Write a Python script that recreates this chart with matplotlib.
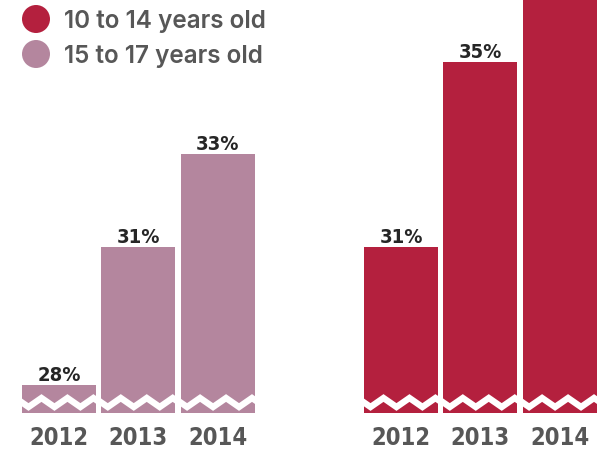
import numpy as np
import matplotlib
matplotlib.use("Agg")
import matplotlib.pyplot as plt
from matplotlib.patches import Circle
import matplotlib.transforms as mtransforms

years = ["2012", "2013", "2014"]
older = [28, 31, 33]      # 15 to 17 years old
younger = [31, 35, 38]    # 10 to 14 years old (2014 runs off the top)
series_names = ["10 to 14 years old", "15 to 17 years old"]

CRIMSON = "#B4203E"
MAUVE = "#B4869E"
LABEL = "#262626"
GRAY = "#575757"

fig = plt.figure(figsize=(6.03, 4.51), dpi=100)
ax = fig.add_axes([0, 1 - 413 / 451, 1, 413 / 451])
ax.set_xlim(-0.744, 6.86)
ax.set_ylim(27.393, 36.344)
ax.axis("off")

width = 0.933
x_old = np.arange(len(years))
x_young = x_old + 4.313

num_font = dict(family="DejaVu Sans", stretch="condensed", weight="bold")
trans = mtransforms.blended_transform_factory(ax.transData, ax.transAxes)


def draw_group(xs, vals, color):
    bars = ax.bar(xs, vals, width=width, color=color, linewidth=0)
    for bar, x, v, yr in zip(bars, xs, vals, years):
        ax.annotate(f"{v}%", (x, v), xytext=(0, 4), textcoords="offset pixels",
                    ha="center", va="baseline", fontsize=14.5, color=LABEL,
                    annotation_clip=True, **num_font)
        ax.annotate(yr, (x, 0), xycoords=trans, xytext=(0, -32),
                    textcoords="offset pixels", ha="center", va="baseline",
                    fontsize=17, color=GRAY, annotation_clip=False, **num_font)
        # white zigzag "axis break"
        period = width / 2.85
        left = x - width / 2
        xs_z = np.arange(left - period / 4, x + width / 2 + period / 2, period / 2)
        ys_z = np.where(np.arange(len(xs_z)) % 2 == 0, 1, -1)
        base = 10.5 / 413
        amp = 4.5 / 413
        line, = ax.plot(xs_z, base + amp * ys_z, color="white", lw=4.6,
                        transform=trans, solid_joinstyle="miter", zorder=3)
        line.set_clip_path(bar)


draw_group(x_old, older, MAUVE)
draw_group(x_young, younger, CRIMSON)

# legend
for i, (name, color) in enumerate(zip(series_names, [CRIMSON, MAUVE])):
    cy = 451 - (19 + 35 * i)
    fig.add_artist(Circle((36 / 100, cy / 100), 14 / 100,
                          transform=fig.dpi_scale_trans, color=color, lw=0))
    fig.text(64 / 603, cy / 451, name, ha="left", va="center_baseline",
             fontsize=17.5, color=GRAY, family="Inter", weight=600)

fig.savefig("out.png", dpi=100)
